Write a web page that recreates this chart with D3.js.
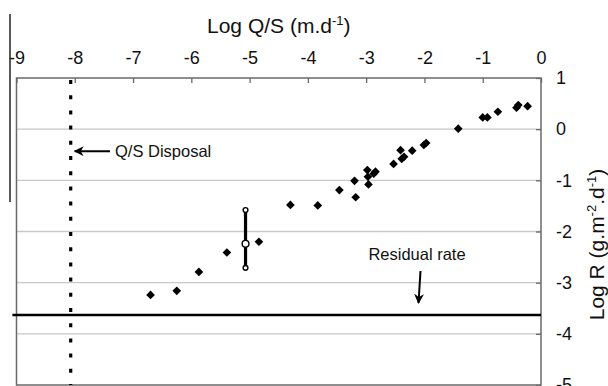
<!DOCTYPE html>
<html>
<head>
<meta charset="utf-8">
<script src="https://cdn.jsdelivr.net/npm/d3@7/dist/d3.min.js"></script>
<style>
  html, body { margin: 0; padding: 0; background: #fff; }
  svg { display: block; font-family: "Liberation Sans", Arial, sans-serif; }
</style>
</head>
<body>
<svg id="chart" width="608" height="386"></svg>
<script>
// Log Q/S (x) vs Log R (y) observations
const logQS = [-6.70, -6.25, -5.87, -5.39, -4.84, -4.30, -3.83, -3.46, -3.20, -3.18,
               -2.98, -2.97, -2.96, -2.84, -2.87, -2.53, -2.41, -2.39, -2.35, -2.21,
               -2.01, -1.97, -1.42, -1.00, -0.92, -0.74, -0.42, -0.39, -0.23];
const logR  = [-3.24, -3.16, -2.79, -2.41, -2.20, -1.48, -1.49, -1.19, -1.01, -1.33,
               -0.80, -0.93, -1.08, -0.83, -0.87, -0.68, -0.41, -0.58, -0.54, -0.42,
               -0.31, -0.27, 0.01, 0.23, 0.23, 0.34, 0.42, 0.47, 0.45];

// Range bar: x position, low / mid / high of Log R
const rangeX = -5.07;
const rangeR = [-2.71, -2.24, -1.58];

// Reference levels
const disposalQS = -8.07;   // Q/S disposal (vertical dotted line)
const residualR = -3.63;    // residual rate (horizontal line)

const xTicks = [-9, -8, -7, -6, -5, -4, -3, -2, -1, 0];
const yTicks = [1, 0, -1, -2, -3, -4, -5];

const svg = d3.select("#chart");
const x = d3.scaleLinear().domain([-9, 0]).range([16.5, 541]);
const y = d3.scaleLinear().domain([1, -5]).range([78, 385]);
const [x0, x1] = x.range();
const [y0, y1] = y.range();

// horizontal gridlines
svg.append("g").selectAll("line")
  .data(yTicks.filter(t => t < 1 && t > -5))
  .join("line")
  .attr("x1", x0).attr("x2", x1)
  .attr("y1", d => y(d)).attr("y2", d => y(d))
  .attr("stroke", "#c8c8c8").attr("stroke-width", 1.3);

// plot frame
svg.append("rect")
  .attr("x", x0).attr("y", y0)
  .attr("width", x1 - x0).attr("height", y1 - y0)
  .attr("fill", "none").attr("stroke", "#6a6a6a").attr("stroke-width", 1.5);

// top axis
const xAxis = svg.append("g")
  .attr("transform", `translate(0,${y0})`)
  .call(d3.axisTop(x).tickValues(xTicks).tickSize(-5).tickPadding(14).tickFormat(d3.format("d")));
xAxis.select(".domain").remove();
xAxis.selectAll(".tick line").attr("stroke", "#6a6a6a").attr("stroke-width", 1.3);
xAxis.selectAll(".tick text")
  .attr("font-size", 18).attr("fill", "#111")
  .style("font-family", "'Liberation Sans', Arial, sans-serif")
  .text(d => d < 0 ? "-" + Math.abs(d) : d);

// right axis
const yAxis = svg.append("g")
  .attr("transform", `translate(${x1},0)`)
  .call(d3.axisRight(y).tickValues(yTicks).tickSize(-5).tickPadding(15).tickFormat(d3.format("d")));
yAxis.select(".domain").remove();
yAxis.selectAll(".tick line").attr("stroke", "#6a6a6a").attr("stroke-width", 1.3);
yAxis.selectAll(".tick text")
  .attr("font-size", 18).attr("fill", "#111")
  .style("font-family", "'Liberation Sans', Arial, sans-serif")
  .text(d => d < 0 ? "-" + Math.abs(d) : d);

// axis titles
const xTitle = svg.append("text")
  .attr("x", (x0 + x1) / 2).attr("y", 33)
  .attr("text-anchor", "middle").attr("font-size", 21).attr("fill", "#111");
xTitle.append("tspan").text("Log Q/S (m.d");
xTitle.append("tspan").attr("font-size", 13).attr("dy", -8).text("-1");
xTitle.append("tspan").attr("dy", 8).text(")");

const yTitle = svg.append("text")
  .attr("transform", `translate(604,${(y0 + y1) / 2 + 13}) rotate(-90)`)
  .attr("text-anchor", "middle").attr("font-size", 21).attr("fill", "#111");
yTitle.append("tspan").text("Log R (g.m");
yTitle.append("tspan").attr("font-size", 13).attr("dy", -8).text("-2");
yTitle.append("tspan").attr("dy", 8).text(".d");
yTitle.append("tspan").attr("font-size", 13).attr("dy", -8).text("-1");
yTitle.append("tspan").attr("dy", 8).text(")");

// stray frame line at far left
svg.append("line")
  .attr("x1", 10).attr("x2", 10).attr("y1", 14).attr("y2", 202)
  .attr("stroke", "#222").attr("stroke-width", 1.5);

// Q/S disposal dotted line
svg.append("line")
  .attr("x1", x(disposalQS)).attr("x2", x(disposalQS))
  .attr("y1", y0 + 2).attr("y2", y1)
  .attr("stroke", "#000").attr("stroke-width", 3.2)
  .attr("stroke-dasharray", "4,11.2");

// residual rate line
svg.append("line")
  .attr("x1", x(-9.07)).attr("x2", x1)
  .attr("y1", y(residualR)).attr("y2", y(residualR))
  .attr("stroke", "#000").attr("stroke-width", 2.5);

// arrowheads
const defs = svg.append("defs");
defs.append("marker")
  .attr("id", "arrow").attr("viewBox", "0 0 10 10")
  .attr("refX", 9).attr("refY", 5)
  .attr("markerWidth", 5).attr("markerHeight", 5)
  .attr("markerUnits", "strokeWidth")
  .attr("orient", "auto")
  .append("path").attr("d", "M0,0 L10,5 L0,10 L3,5 Z").attr("fill", "#000");

// Q/S Disposal annotation
const annY = y(-0.43);
svg.append("line")
  .attr("x1", 110).attr("x2", x(disposalQS) + 4)
  .attr("y1", annY).attr("y2", annY)
  .attr("stroke", "#000").attr("stroke-width", 2)
  .attr("marker-end", "url(#arrow)");
svg.append("text")
  .attr("x", 115).attr("y", annY + 6)
  .attr("font-size", 16.5).attr("fill", "#111")
  .text("Q/S Disposal");

// Residual rate annotation
svg.append("text")
  .attr("x", 417).attr("y", 260)
  .attr("text-anchor", "middle")
  .attr("font-size", 16.5).attr("fill", "#111")
  .text("Residual rate");
svg.append("line")
  .attr("x1", 420.5).attr("x2", 418.5)
  .attr("y1", 271).attr("y2", y(residualR) - 12)
  .attr("stroke", "#000").attr("stroke-width", 2)
  .attr("marker-end", "url(#arrow)");

// range bar
svg.append("line")
  .attr("x1", x(rangeX)).attr("x2", x(rangeX))
  .attr("y1", y(rangeR[0])).attr("y2", y(rangeR[2]))
  .attr("stroke", "#000").attr("stroke-width", 3.2);
svg.append("g").selectAll("circle")
  .data(rangeR)
  .join("circle")
  .attr("cx", x(rangeX)).attr("cy", d => y(d))
  .attr("r", (d, i) => i === 1 ? 3.4 : 2.4)
  .attr("fill", "#fff").attr("stroke", "#000").attr("stroke-width", 1.4);

// observations
const pts = logQS.map((v, i) => [v, logR[i]]);
svg.append("g").selectAll("path")
  .data(pts)
  .join("path")
  .attr("transform", d => `translate(${x(d[0])},${y(d[1])})`)
  .attr("d", d3.symbol(d3.symbolDiamond2, 48))
  .attr("fill", "#000");
</script>
</body>
</html>
